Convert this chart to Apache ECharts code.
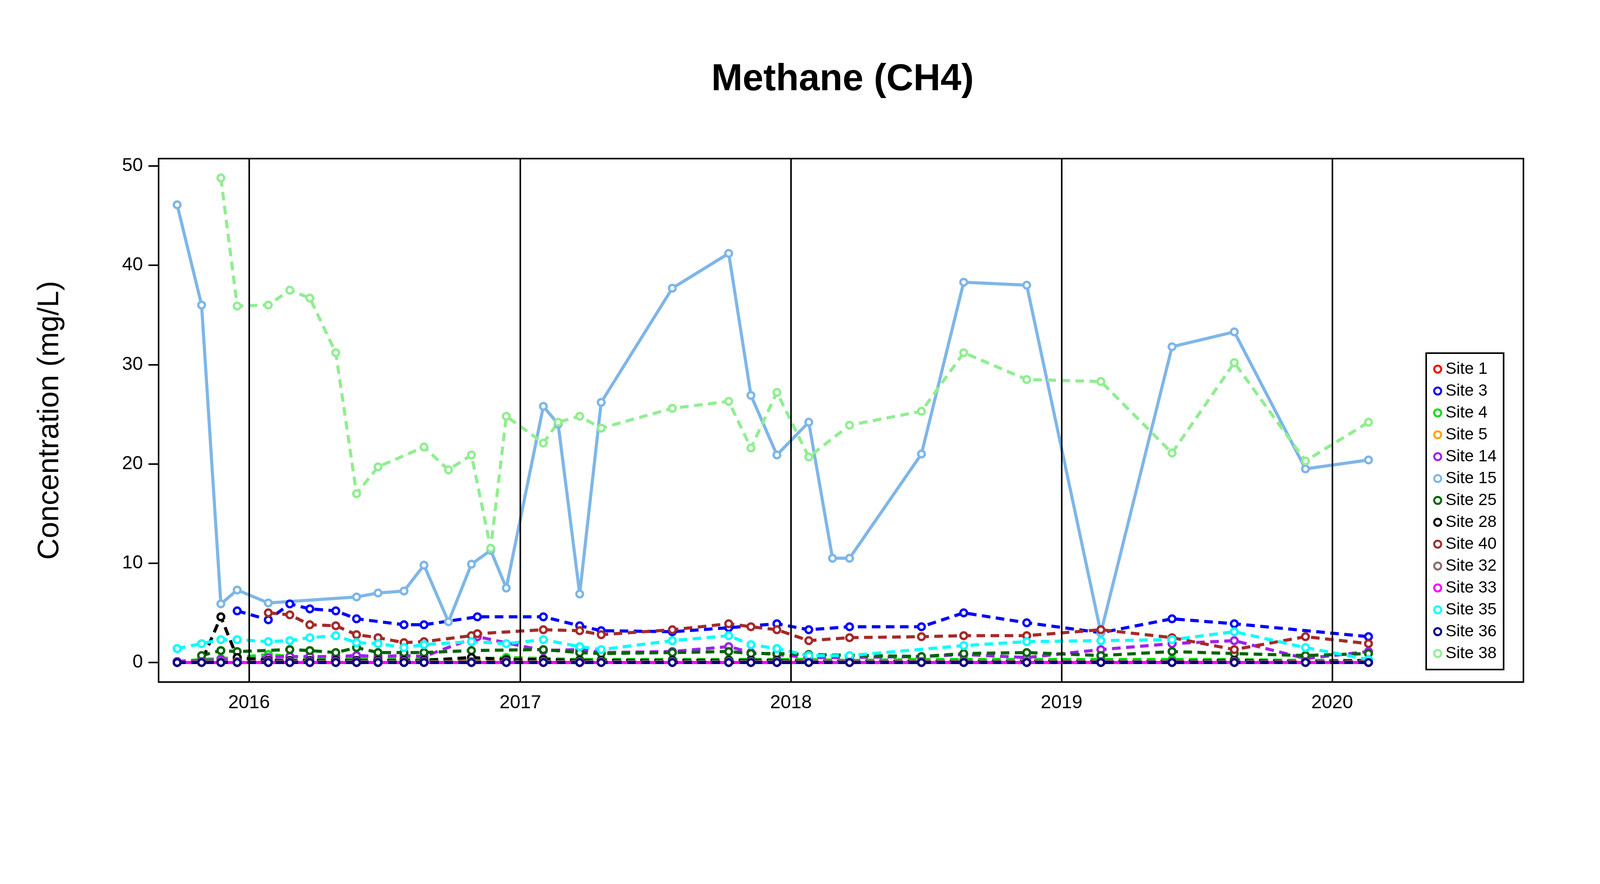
<!DOCTYPE html>
<html>
<head>
<meta charset="utf-8">
<script src="https://cdn.jsdelivr.net/npm/echarts@6/dist/echarts.min.js"></script>
<style>html,body{margin:0;background:#fff}</style>
</head>
<body>
<div id="main" style="width:4133px;height:2263px;"></div>
<script>
var dates = ['2015-09-26','2015-10-29','2015-11-24','2015-12-16','2016-01-27','2016-02-25','2016-03-23','2016-04-27','2016-05-25','2016-06-23','2016-07-28','2016-08-24','2016-09-26','2016-10-27','2016-11-04','2016-11-22','2016-12-13','2017-02-01','2017-02-21','2017-03-22','2017-04-20','2017-07-25','2017-10-09','2017-11-08','2017-12-13','2018-01-25','2018-02-26','2018-03-21','2018-06-26','2018-08-22','2018-11-15','2019-02-23','2019-05-30','2019-08-22','2019-11-26','2020-02-19'];
var N = null;
var site1  = [0,0,0,0,0,0,0,0,0,0,0,0,N,0,N,N,N,0,N,0,0,0,0,0,0,0,N,0,0,0,0,0,0,0,0,0];
var site3  = [N,N,N,5.2,4.3,5.9,5.4,5.2,4.4,N,3.8,3.8,N,N,4.6,N,N,4.6,N,3.7,3.2,3.1,3.5,N,3.9,3.3,N,3.6,3.6,5.0,4.0,3.0,4.4,3.9,N,2.6];
var site4  = [0.1,0.3,0.4,0.5,0.8,0.6,0.5,0.4,0.5,0.4,0.4,0.3,N,0.3,N,N,0.5,0.4,N,0.3,0.3,0.3,0.3,0.3,0.3,0.3,N,0.2,0.3,0.3,0.3,0.3,0.3,0.3,0.2,0.2];
var site5  = [0,0,0,0,0,0,0,0,0,0,0,0,N,0.2,N,N,0.3,0.1,N,0.1,0.1,0.1,0.1,0.1,0.1,0,N,0,0,0,0,0,0,0,0,0];
var site14 = [0.1,0.2,0.3,0.3,0.5,0.6,0.6,0.6,0.7,0.6,0.7,0.6,N,N,2.6,N,N,1.2,N,1.3,1.0,1.1,1.6,1.0,0.8,0.5,N,0.5,0.6,0.8,0.5,1.3,1.9,2.2,0.4,1.1];
var site15 = [46.1,36.0,5.9,7.3,6.0,N,N,N,6.6,7.0,7.2,9.8,4.1,9.9,N,11.3,7.5,25.8,24.0,6.9,26.2,37.7,41.2,26.9,20.9,24.2,10.5,10.5,21.0,38.3,38.0,3.0,31.8,33.3,19.5,20.4];
var site25 = [N,0.7,1.2,1.1,N,1.3,1.2,1.0,1.5,1.0,1.0,1.0,N,1.2,N,N,N,1.3,N,1.0,0.9,1.0,1.1,0.9,0.9,0.8,N,N,0.6,0.9,1.0,0.7,1.1,0.9,0.7,0.9];
var site28 = [0,0.1,4.6,0.5,0.2,0.2,0.2,0.2,0.2,0.2,0.2,0.2,N,0.5,N,N,0.3,0.3,N,0.2,0.2,0.2,0.2,0.2,0.2,0.1,N,0.1,0.1,0.1,0.1,0.1,0.1,0.2,0.1,0.2];
var site40 = [N,N,N,N,5.0,4.8,3.8,3.7,2.8,2.5,2.0,2.1,N,2.7,2.9,N,N,3.3,N,3.2,2.8,3.3,3.9,3.6,3.3,2.2,N,2.5,2.6,2.7,2.7,3.3,2.5,1.3,2.6,1.9];
var site32 = [0,0.1,0.1,0.1,0.1,0.1,0.1,0.1,0.1,0.1,0.1,0.1,N,0.1,N,N,0.1,0.1,N,0.1,0.1,0.1,0.1,0.1,0.1,0.1,N,0.1,0.1,0.1,0.1,0.1,0.1,0.1,0.1,0.1];
var site33 = [0,0,0,0,0,0,0,0,0,0,0,0,N,0,N,N,0,0,N,0,0,0,0,0,0,0,N,0,0,0,0,0,0,0,0,0];
var site35 = [1.4,1.9,2.3,2.3,2.1,2.2,2.5,2.7,2.0,1.9,1.5,1.8,N,2.1,N,N,1.9,2.3,N,1.6,1.3,2.2,2.7,1.8,1.4,0.7,N,0.7,N,1.7,2.1,2.2,2.3,3.1,1.5,0.3];
var site36 = [0,0,0,0,0,0,0,0,0,0,0,0,N,0,N,N,0,0,N,0,0,0,0,0,0,0,N,0,0,0,0,0,0,0,0,0];
var site38 = [N,N,48.8,35.9,36.0,37.5,36.7,31.2,17.0,19.7,N,21.7,19.4,20.9,N,11.5,24.8,22.1,24.2,24.8,23.6,25.6,26.3,21.6,27.2,20.7,N,23.9,25.3,31.2,28.5,28.3,21.1,30.2,20.3,24.2];
var yearTicks = ['2016-01-01','2017-01-01','2018-01-01','2019-01-01','2020-01-01'];
var yTicks = [0,10,20,30,40,50];

function ts(d) { return Date.parse(d + 'T00:00:00Z'); }
var xTicks = yearTicks.map(ts);

var sites = [
  ['Site 1', site1, '#FF0000', [22,14]],
  ['Site 3', site3, '#0000FF', [22,14]],
  ['Site 4', site4, '#00E000', [22,14]],
  ['Site 5', site5, '#FFA500', [22,14]],
  ['Site 14', site14, '#A020F0', [22,14]],
  ['Site 15', site15, '#7EB6E8', 'solid'],
  ['Site 25', site25, '#006400', [22,14]],
  ['Site 28', site28, '#000000', [22,14]],
  ['Site 40', site40, '#A52A2A', [22,14]],
  ['Site 32', site32, '#8B6969', [22,14]],
  ['Site 33', site33, '#FF00FF', 'solid'],
  ['Site 35', site35, '#00FFFF', [22,14]],
  ['Site 36', site36, '#000080', [22,14]],
  ['Site 38', site38, '#90EE90', [22,14]]
];
var series = sites.map(function (s) {
  return {
    name: s[0], type: 'line', connectNulls: true,
    data: dates.map(function (d, i) { return [ts(d), s[1][i]]; }),
    symbol: 'circle', symbolSize: 17,
    itemStyle: {color: '#fff', borderColor: s[2], borderWidth: 6},
    lineStyle: {color: s[2], width: 8, type: s[3]}
  };
});
series.push({
  type: 'line', data: [], silent: true,
  markLine: {symbol: 'none', silent: true, label: {show: false},
    lineStyle: {color: '#000', width: 4, type: 'solid'},
    data: xTicks.map(function (t) { return {xAxis: t}; })}
});

var myChart = echarts.init(document.getElementById('main'));
myChart.setOption({
  backgroundColor: '#fff',
  animation: false,
  title: {text: 'Methane (CH4)', left: 2152, textAlign: 'center', top: 152,
    textStyle: {fontSize: 96, fontWeight: 'bold', color: '#000', fontFamily: 'Liberation Sans'}},
  legend: {orient: 'vertical', left: 3651, top: 904, width: 249, height: 841,
    borderColor: '#000', borderWidth: 4, padding: [20, 18, 20, 18], itemGap: 14,
    icon: 'circle', itemWidth: 30, itemHeight: 18,
    itemStyle: {color: '#fff', borderWidth: 5},
    data: sites.map(function (s) { return {name: s[0], itemStyle: {color: '#fff', borderColor: s[2], borderWidth: 5}}; }),
    textStyle: {fontSize: 42, color: '#000', fontFamily: 'Liberation Sans'}},
  grid: {left: 406, right: 233, top: 406, bottom: 517, show: true, borderColor: '#000', borderWidth: 4},
  xAxis: {type: 'value', min: ts('2015-09-01'), max: ts('2020-09-15'),
    axisLine: {show: false},
    splitLine: {show: false},
    axisTick: {show: false},
    axisLabel: {customValues: xTicks, formatter: function (v) { return new Date(v).getUTCFullYear(); },
      fontSize: 48, color: '#000', margin: 30, fontFamily: 'Liberation Sans'}},
  yAxis: {type: 'value', min: -1.97, max: 50.75,
    name: 'Concentration (mg/L)', nameLocation: 'middle', nameGap: 240,
    nameTextStyle: {fontSize: 76, color: '#000', fontFamily: 'Liberation Sans'},
    axisLine: {show: false}, splitLine: {show: false},
    axisTick: {show: true, customValues: yTicks, length: 26, lineStyle: {color: '#000', width: 4}},
    axisLabel: {customValues: yTicks, fontSize: 48, color: '#000', margin: 40, fontFamily: 'Liberation Sans'}},
  series: series
});
</script>
</body>
</html>
